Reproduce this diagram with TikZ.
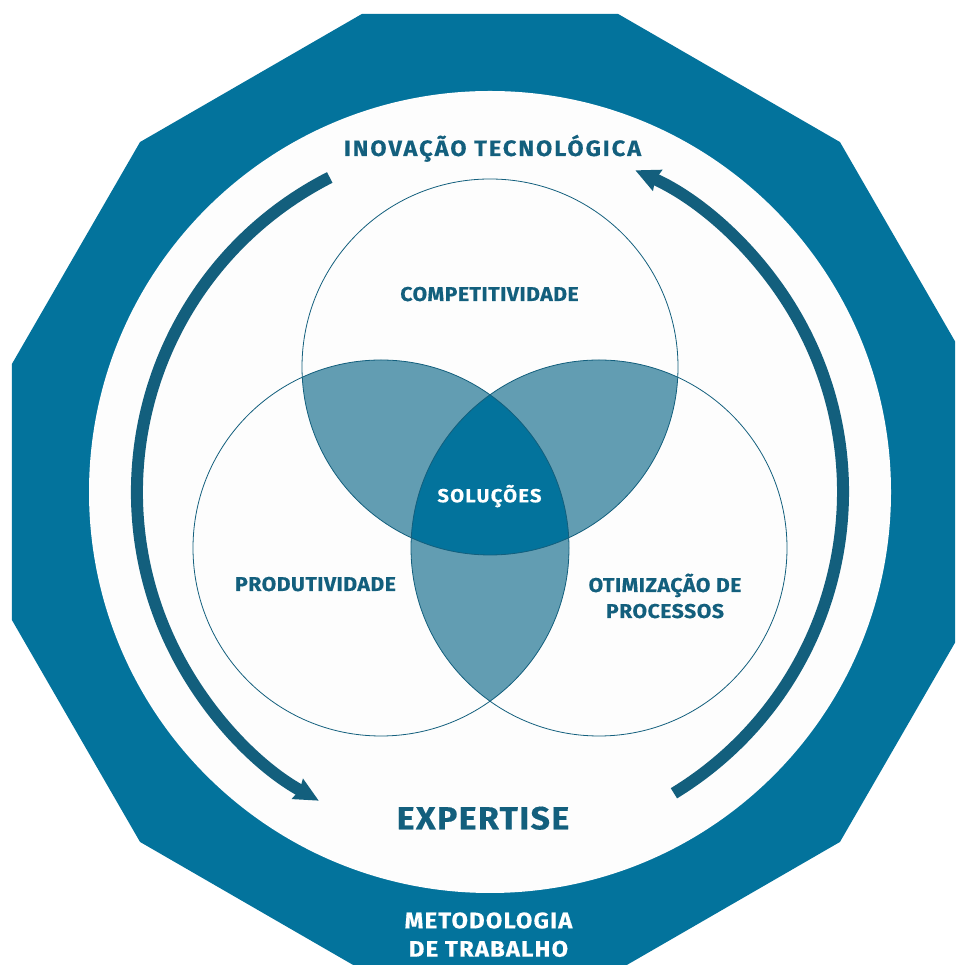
\documentclass[tikz,border=0pt]{standalone}
\usepackage{fontspec}
\setmainfont{Fira Sans}
\newfontfamily\lsnarrow[LetterSpace=2.5, FakeStretch=1.06, FakeBold=0.4]{Fira Sans}
\newfontfamily\lsmid[LetterSpace=4.3, FakeStretch=1.06, FakeBold=0.4]{Fira Sans}
\newfontfamily\lsmet[LetterSpace=5.2, FakeStretch=1.06, FakeBold=0.4]{Fira Sans}
\newfontfamily\lssol[LetterSpace=6.5, FakeStretch=1.06, FakeBold=0.4]{Fira Sans}
\newfontfamily\lswide[LetterSpace=9, FakeStretch=1.06, FakeBold=0.4]{Fira Sans}
\usetikzlibrary{arrows.meta}
\definecolor{outerblue}{HTML}{03739C}
\definecolor{darkteal}{HTML}{135F7D}
\definecolor{lightteal}{HTML}{629DB2}
\definecolor{paper}{HTML}{FDFDFD}
\begin{document}
\begin{tikzpicture}[x=1pt,y=1pt,
  lbl/.style={text=darkteal, inner sep=0pt, anchor=base, align=center},
  wlbl/.style={lbl, text=white},
  ring/.style={draw=darkteal, line width=0.8pt},
  cyclearrow/.style={draw=darkteal, line width=12pt, -{Stealth[length=24pt, width=22pt, inset=2pt]}}]
\useasboundingbox (0,0) rectangle (955,965);
\fill[white] (0,0) rectangle (955,965);
\coordinate (c) at (490,473);
% outer dodecagon, cropped by the page
\begin{scope}
  \clip (0,0) rectangle (955,965);
  \begin{scope}[shift={(490,473)}]
    \fill[outerblue] (15:494.9) -- (45:494.9) -- (75:494.9) -- (105:494.9) -- (135:494.9) -- (165:494.9)
      -- (195:494.9) -- (225:494.9) -- (255:494.9) -- (285:494.9) -- (315:494.9) -- (345:494.9) -- cycle;
  \end{scope}
\end{scope}
% inner white disc
\fill[paper] (c) circle[radius=401];
% venn circles
\coordinate (ct) at (490,598);
\coordinate (cl) at (381,417);
\coordinate (cr) at (599,417);
\begin{scope}
  \clip (ct) circle[radius=188];
  \fill[lightteal] (cl) circle[radius=188];
  \fill[lightteal] (cr) circle[radius=188];
\end{scope}
\begin{scope}
  \clip (cl) circle[radius=188];
  \fill[lightteal] (cr) circle[radius=188];
\end{scope}
\begin{scope}
  \clip (ct) circle[radius=188];
  \clip (cl) circle[radius=188];
  \fill[outerblue] (cr) circle[radius=188];
\end{scope}
\draw[ring] (ct) circle[radius=188];
\draw[ring] (cl) circle[radius=188];
\draw[ring] (cr) circle[radius=188];
% cycle arrows
\draw[cyclearrow] (c) ++(117:353) arc[start angle=117, end angle=241, radius=353];
\draw[cyclearrow] (c) ++(-58.6:353) arc[start angle=-58.6, end angle=65.7, radius=353];
% labels
\node[lbl, font=\lswide\bfseries\fontsize{22.2}{26}\selectfont] (inov) at (492.5,809) {INOVAÇÃO TECNOLÓGICA};
\node[lbl, font=\lsnarrow\bfseries\fontsize{20}{26}\selectfont] (comp) at (489.5,664) {COMPETITIVIDADE};
\node[wlbl, font=\lssol\bfseries\fontsize{19}{26}\selectfont] (sol) at (489.5,462.7) {SOLUÇÕES};
\node[lbl, font=\lsnarrow\bfseries\fontsize{20}{26}\selectfont] (prod) at (315.5,374) {PRODUTIVIDADE};
\node[lbl, font=\lsnarrow\bfseries\fontsize{20}{26}\selectfont] (otim) at (665,347) {OTIMIZAÇÃO DE\\PROCESSOS};
\node[lbl, font=\lsmid\bfseries\fontsize{32}{36}\selectfont] (exp) at (483,135.7) {EXPERTISE};
\node[wlbl, font=\lsmet\bfseries\fontsize{22.5}{28.4}\selectfont] (met) at (488.5,8.3) {METODOLOGIA\\DE TRABALHO};
\end{tikzpicture}
\end{document}
